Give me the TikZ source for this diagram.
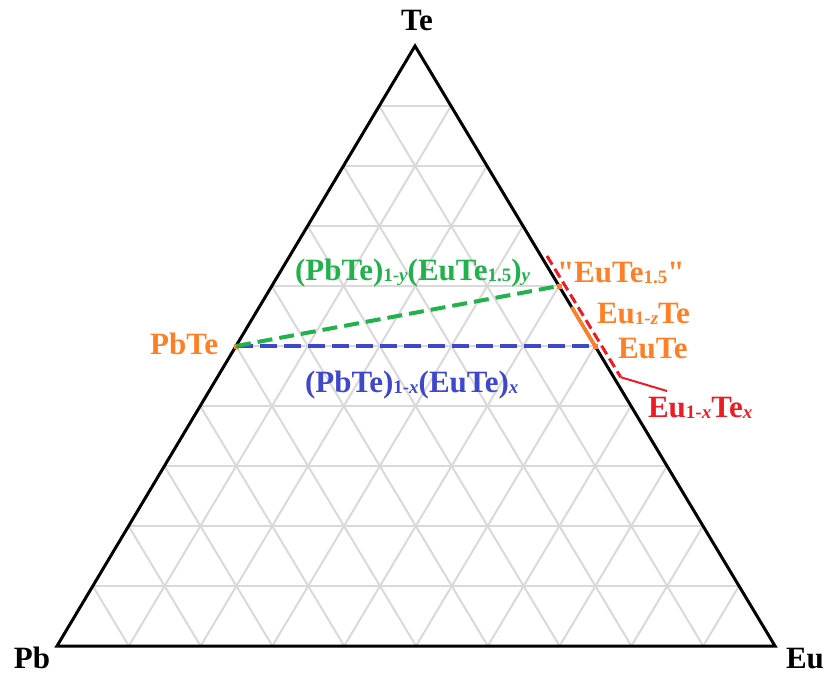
\documentclass[tikz,border=0pt]{standalone}
\usepackage{fontspec}
\setmainfont{Liberation Serif}[Ligatures=TeXOff]
\usepackage{xcolor}
\usetikzlibrary{calc}
\definecolor{phorange}{RGB}{255,127,39}
\definecolor{phgreen}{RGB}{34,177,76}
\definecolor{phblue}{RGB}{63,72,204}
\definecolor{phred}{RGB}{237,28,36}
\definecolor{phgrid}{RGB}{217,217,217}
\newcommand{\chsub}[1]{\raisebox{-1pt}{\fontsize{19}{19}\selectfont #1}}
\tikzset{
  % ternary frame and grid
  frame/.style={line width=3pt,black,line join=miter},
  gridline/.style={line width=2pt,phgrid},
  % tie lines
  tieA/.style={line width=4pt,phgreen,dash pattern=on 15pt off 7pt},
  tieB/.style={line width=4pt,phblue,dash pattern=on 17pt off 7pt},
  homog/.style={line width=3.5pt,phorange},
  solid/.style={line width=3pt,phred,dash pattern=on 10pt off 5pt},
  leader/.style={line width=2pt,phred},
  % compound markers
  ptbox/.style={rectangle,fill=phorange,inner sep=0pt,minimum size=5pt},
  % labels
  lbl/.style={inner sep=0pt,outer sep=0pt,font=\fontsize{31}{31}\selectfont\bfseries},
}
\begin{document}
\begin{tikzpicture}[x=1pt,y=-1pt]
\useasboundingbox (0,0) rectangle (827,673);

%% ---- corners ----
\coordinate (pb) at (57,646);
\coordinate (eu) at (775,646);
\coordinate (te) at (415,46);

%% ---- grid ----
\foreach \k in {1,...,9}{
  \draw[gridline] ($(pb)!\k/10!(te)$) -- ($(eu)!\k/10!(te)$);
  \draw[gridline] ($(pb)!\k/10!(eu)$) -- ($(te)!\k/10!(eu)$);
  \draw[gridline] ($(pb)!\k/10!(eu)$) -- ($(pb)!\k/10!(te)$);
}

%% ---- frame ----
\draw[frame] (pb) -- (eu) -- (te) -- cycle;

%% ---- compounds ----
\node[ptbox] (pbte)   at ($(pb)!0.5!(te)$) {};
\node[ptbox] (eute)   at ($(eu)!0.5!(te)$) {};
\node[ptbox] (eute15) at ($(eu)!0.6!(te)$) {};
\coordinate (zstart) at ($(eu)!0.565!(te)$);
\coordinate (redtop) at ($(eu)!0.65!(te)+(6,0)$);
\coordinate (redbot) at ($(eu)!0.448!(te)+(7,0)$);
\coordinate (lead)   at (667,391);

%% ---- tie lines ----
\draw[tieB] (pbte.center) -- (eute.center);
\draw[tieA] (pbte.center) -- (eute15.center);
\draw[homog] (zstart) -- (eute.center);
\draw[solid] (redtop) -- (redbot);
\draw[leader] (redbot) -- (lead);

%% ---- labels ----
\node[lbl,anchor=base] (lte) at (417,30) {Te};
\node[lbl,anchor=base] (lpb) at (32,668) {Pb};
\node[lbl,anchor=base] (leu) at (805,668) {Eu};
\node[lbl,anchor=base east,phorange] (lpbte) at (218,354) {PbTe};
\node[lbl,anchor=base west,phgreen] (ltieA) at (295,280)
  {(PbTe)\chsub{1-\textit{y}}(EuTe\chsub{1.5})\chsub{\textit{y}}};
\node[lbl,anchor=base west,phblue] (ltieB) at (305,392)
  {(PbTe)\chsub{1-\textit{x}}(EuTe)\chsub{\textit{x}}};
\node[lbl,anchor=base west,phorange] (leute15) at (557,282) {"EuTe\chsub{1.5}"};
\node[lbl,anchor=base west,phorange] (leuz) at (597,323) {Eu\chsub{1-\textit{z}}Te};
\node[lbl,anchor=base west,phorange] (leute) at (618,358) {EuTe};
\node[lbl,anchor=base west,phred] (leux) at (648,417) {Eu\chsub{1-\textit{x}}Te\chsub{\textit{x}}};
\end{tikzpicture}
\end{document}
